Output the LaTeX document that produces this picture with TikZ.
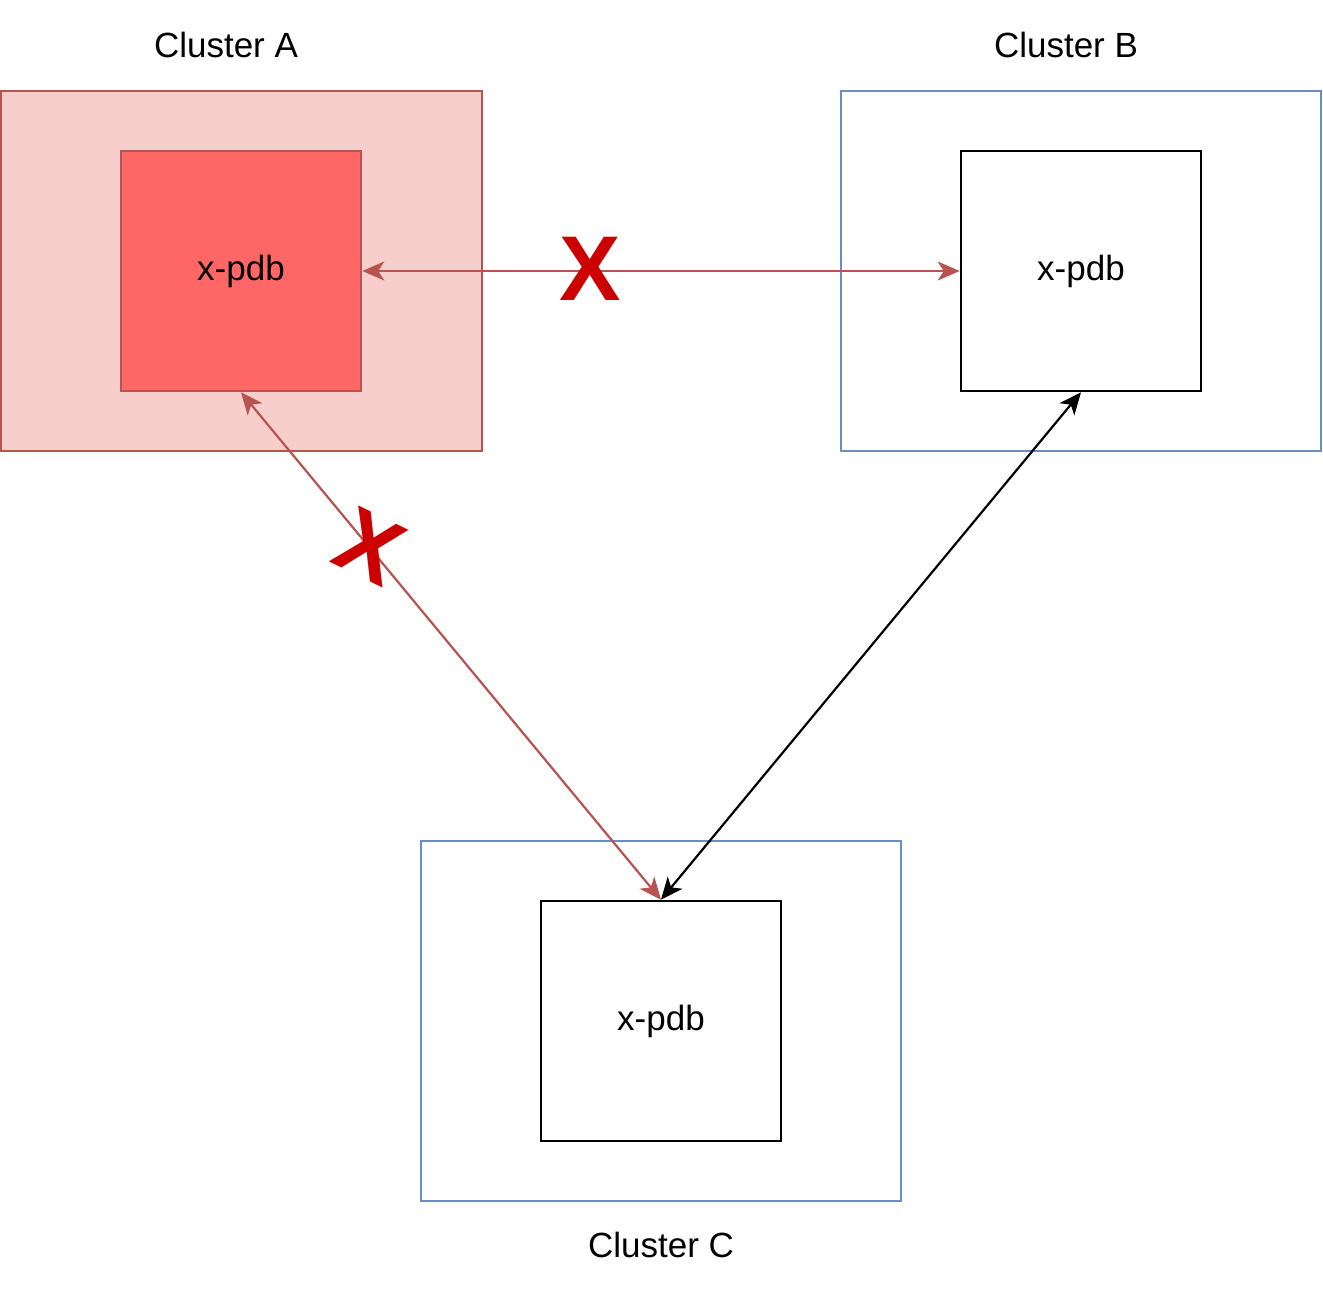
\documentclass[tikz,border=0pt]{standalone}
\usepackage{fontspec}
\setmainfont{Liberation Sans}
\usetikzlibrary{arrows.meta}
\definecolor{redfill}{HTML}{F8CECC}
\definecolor{redline}{HTML}{B85450}
\definecolor{redstrong}{HTML}{FF6666}
\definecolor{blueline}{HTML}{6C8EBF}
\definecolor{xred}{HTML}{CC0000}
\begin{document}
\begin{tikzpicture}[x=1pt,y=-1pt,
  cluster/.style={draw=blueline,line width=2.6pt,fill=white},
  clusterA/.style={draw=redline,fill=redfill,line width=2.6pt},
  pdb/.style={draw=black,line width=2.6pt,fill=white,minimum size=240pt,inner sep=0pt,font=\fontsize{35}{40}\selectfont},
  pdbA/.style={pdb,draw=redline,fill=redstrong},
  lbl/.style={font=\fontsize{35}{40}\selectfont,inner sep=0pt},
  link/.style={line width=2.2pt,{Stealth[length=22pt,width=19pt,inset=6pt]}-{Stealth[length=22pt,width=19pt,inset=6pt]}},
  cross/.style={text=xred,font=\fontsize{92}{92}\selectfont\bfseries,inner sep=0pt}]
\useasboundingbox (0,0) rectangle (1323,1290);
\fill[white] (0,0) rectangle (1323,1290);
% cluster frames
\draw[clusterA] (1,91) rectangle (482,451);
\draw[cluster] (841,91) rectangle (1321,451);
\draw[cluster] (421,841) rectangle (901,1201);
% labels
\node[lbl] (la) at (226,45) {Cluster A};
\node[lbl] (lb) at (1066,45) {Cluster B};
\node[lbl] (lc) at (661,1245) {Cluster C};
% inner boxes
\node[pdbA] (ia) at (241,271) {x-pdb};
\node[pdb] (ib) at (1081,271) {x-pdb};
\node[pdb] (ic) at (661,1021) {x-pdb};
% connectors
\draw[link,draw=redline,fill=redline] (ia.east) -- (ib.west);
\draw[link,draw=redline,fill=redline] (ia.south) -- (ic.north);
\draw[link,draw=black,fill=black] (ib.south) -- (ic.north);
% crosses
\node[cross] (x1) at (590,269) {X};
\node[cross,rotate=-26] (x2) at (370,547) {X};
\end{tikzpicture}
\end{document}
